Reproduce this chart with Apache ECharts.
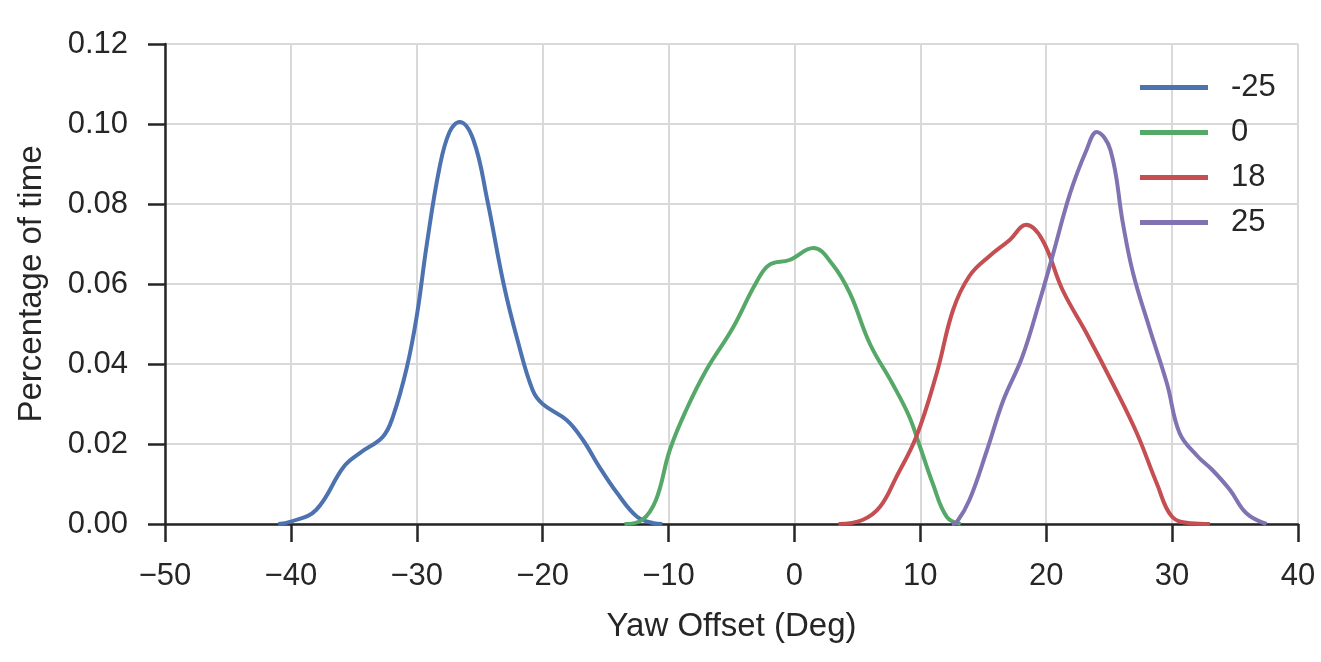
<!DOCTYPE html>
<html>
<head>
<meta charset="utf-8">
<script src="https://cdn.jsdelivr.net/npm/echarts@6/dist/echarts.min.js"></script>
<style>
  html, body { margin: 0; padding: 0; background: #fff; }
  #chart { width: 1321px; height: 662px; }
</style>
</head>
<body>
<div id="chart"></div>
<script>
"use strict";

// KDE curves: [yaw offset deg, share of time]
const yawNeg25 = [
  [-41, 0], [-40, 0.0006], [-38, 0.0035], [-35.8, 0.0143], [-34.5, 0.0178], [-32.7, 0.0218],
  [-31.9, 0.0268], [-30.8, 0.039], [-30, 0.052], [-29.2, 0.070], [-28.2, 0.089],
  [-27.4, 0.098], [-26.6, 0.1005], [-25.5, 0.096], [-24.4, 0.081], [-23.1, 0.060],
  [-22, 0.046], [-20.8, 0.0335], [-20, 0.030], [-18.1, 0.026], [-16.8, 0.021],
  [-15.5, 0.0143], [-14.1, 0.0078], [-12.5, 0.0018], [-11.2, 0.0002], [-10.5, 0]
];
const yaw0 = [
  [-13.5, 0], [-12.1, 0.001], [-11, 0.006], [-9.9, 0.0185], [-8.6, 0.0285], [-7, 0.0385],
  [-4.9, 0.049], [-3.1, 0.060], [-2, 0.0648], [-0.4, 0.066], [1.5, 0.069], [3, 0.065],
  [4.4, 0.0577], [6, 0.045], [7.8, 0.035], [9.1, 0.027], [9.9, 0.020], [11, 0.010],
  [12.1, 0.0018], [13.2, 0]
];
const yaw18 = [
  [3.5, 0], [5.4, 0.001], [6.8, 0.0043], [8.1, 0.0118], [9.7, 0.022], [11.3, 0.0377],
  [12.6, 0.0535], [13.9, 0.062], [15.5, 0.067], [17.1, 0.071], [18.4, 0.0748],
  [19.7, 0.071], [21.3, 0.0585], [23.2, 0.0477], [25.3, 0.035], [27.2, 0.0227],
  [28.8, 0.010], [30, 0.0018], [31.5, 0.0002], [33, 0]
];
const yaw25 = [
  [12.5, 0], [12.9, 0.0005], [13.9, 0.006], [15.3, 0.0185], [16.6, 0.031], [18.1, 0.0418],
  [19.5, 0.056], [20.5, 0.067], [21.9, 0.0827], [23.2, 0.0935], [24, 0.098],
  [25.1, 0.0935], [26.1, 0.075], [26.9, 0.0627], [28.2, 0.049], [29.6, 0.035],
  [30.6, 0.0227], [32, 0.017], [33.2, 0.0135], [34.6, 0.0085], [35.9, 0.0027], [37.5, 0]
];

const seriesNames = ["-25", "0", "18", "25"];
const seriesData = [yawNeg25, yaw0, yaw18, yaw25];
const colors = ["#4C72B0", "#55A868", "#C44E52", "#8172B2"];

const FONT = "'Liberation Sans', Arial, sans-serif";
const TXT = "#262626";
const minus = v => String(v).replace("-", "\u2212");

echarts.init(document.getElementById("chart")).setOption({
  animation: false,
  color: colors,
  textStyle: { fontFamily: FONT, color: TXT },
  grid: { left: 165, right: 23, top: 44, bottom: 138 },
  legend: {
    orient: "vertical",
    left: 1135, top: 67,
    icon: "rect", itemWidth: 68, itemHeight: 5, itemGap: 14,
    data: seriesNames,
    textStyle: { fontFamily: FONT, fontSize: 31, color: TXT, lineHeight: 30, padding: [0, 0, 0, 18] },
  },
  xAxis: {
    type: "value", min: -50, max: 40, interval: 10,
    name: "Yaw Offset (Deg)", nameLocation: "middle", nameGap: 86,
    nameTextStyle: { fontFamily: FONT, fontSize: 33, color: TXT },
    axisLine: { onZero: false, lineStyle: { color: "#262626", width: 2.5 } },
    axisTick: { length: 18, lineStyle: { color: "#262626", width: 2.5 } },
    axisLabel: { fontSize: 31, color: TXT, margin: 37, formatter: minus },
    splitLine: { show: true, lineStyle: { color: "#d9d9d9", width: 2 } },
  },
  yAxis: {
    type: "value", min: 0, max: 0.12, interval: 0.02,
    name: "Percentage of time", nameLocation: "middle", nameGap: 117,
    nameTextStyle: { fontFamily: FONT, fontSize: 33, color: TXT },
    axisLine: { show: true, onZero: false, lineStyle: { color: "#262626", width: 2.5 } },
    axisTick: { show: true, length: 17, lineStyle: { color: "#262626", width: 2.5 } },
    axisLabel: { fontSize: 31, color: TXT, margin: 37, formatter: v => v.toFixed(2) },
    splitLine: { show: true, lineStyle: { color: "#d9d9d9", width: 2 } },
  },
  series: seriesData.map((d, i) => ({
    name: seriesNames[i], type: "line", data: d,
    smooth: 0.4, showSymbol: false, symbol: "none",
    lineStyle: { width: 4, color: colors[i] },
    z: 3 + i,
  })),
});
</script>
</body>
</html>
